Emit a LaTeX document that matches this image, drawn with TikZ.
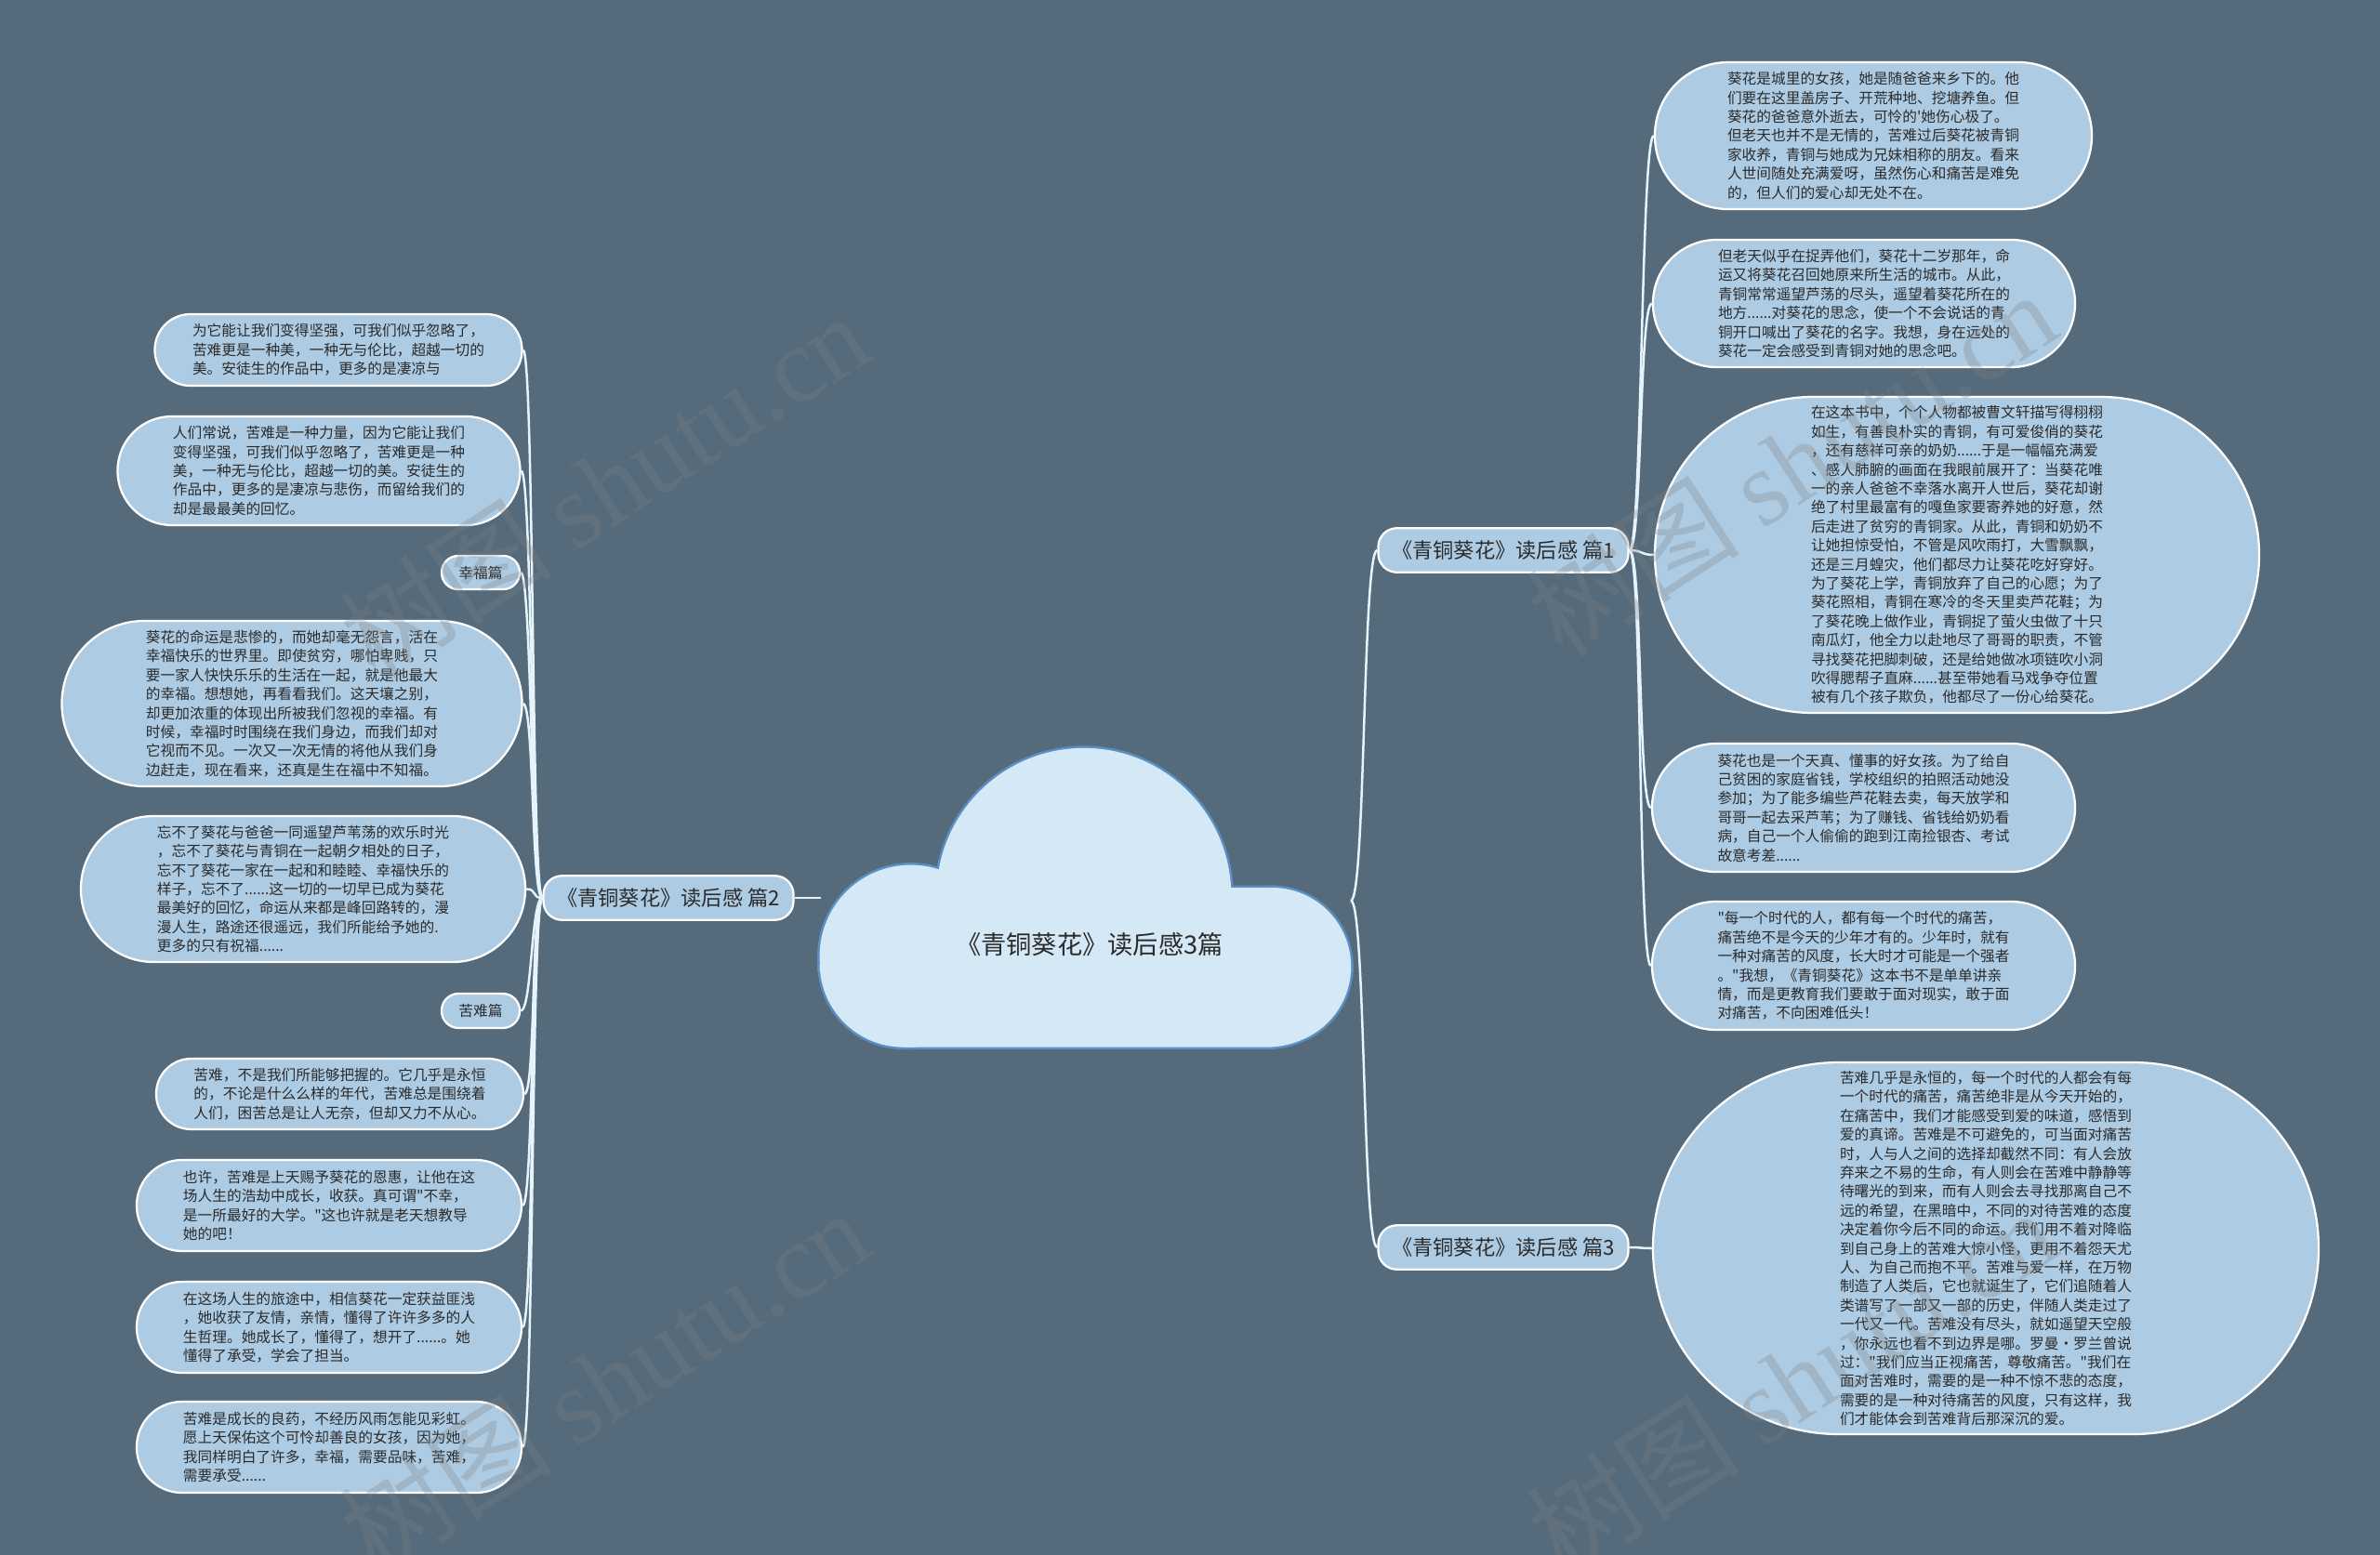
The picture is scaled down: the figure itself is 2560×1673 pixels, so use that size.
\documentclass[tikz,border=0pt]{standalone}
\usepackage{fontspec}
\newfontfamily\cjk{Noto Sans CJK SC}
\newfontfamily\wmserif{Liberation Serif}
\definecolor{bgc}{HTML}{556B7C}
\definecolor{leafc}{HTML}{ADCBE3}
\definecolor{cloudc}{HTML}{D4E8F6}
\definecolor{cloudb}{HTML}{5B8FC4}
\definecolor{txtc}{HTML}{2B2B2B}
\definecolor{connc}{HTML}{E6F3FB}
\tikzset{
  leaf/.style={draw=white, line width=0.9pt, fill=leafc, text=txtc, align=left, inner sep=0pt,
    font=\cjk\fontsize{6.28pt}{8.16pt}\selectfont},
  branch/.style={draw=white, line width=0.9pt, fill=leafc, text=txtc, inner sep=0pt,
    minimum width=107.6pt, minimum height=19pt, rounded corners=8pt,
    font=\cjk\fontsize{8.9pt}{10pt}\selectfont},
  conn/.style={draw=connc, line width=1pt},
  wm/.style={text=gray, opacity=0.28, font=\fontsize{46pt}{46pt}\selectfont, inner sep=0pt},
}
\begin{document}
\begin{tikzpicture}[x=0.4pt,y=-0.4pt]
\useasboundingbox (0,0) rectangle (2560,1673);
\fill[bgc] (0,0) rectangle (2560,1673);

% cloud
\path[draw=cloudb, line width=2pt, fill=cloudb]
  (1165.8,963.3) circle[radius=63.4pt]
  (1368.2,1040) circle[radius=34pt]
  (979.6,1028.6) circle[radius=39.2pt];
\path[draw=cloudb, line width=2pt, fill=cloudb, rounded corners=36pt] (881.7,955) rectangle (1453.1,1126.6);
\path[fill=cloudc]
  (1165.8,963.3) circle[radius=63.4pt]
  (1368.2,1040) circle[radius=34pt]
  (979.6,1028.6) circle[radius=39.2pt];
\path[fill=cloudc, rounded corners=36pt] (881.7,955) rectangle (1453.1,1126.6);
\node[text=txtc, font=\cjk\fontsize{10.9pt}{12pt}\selectfont] (center) at (1172,1016) {《青铜葵花》读后感3篇};
\coordinate (cR) at (1453,969);
\coordinate (cL) at (883,966);

% branches
\node[branch] (b1) at (1617,592) {《青铜葵花》读后感 篇1};
\node[branch] (b2) at (719,966) {《青铜葵花》读后感 篇2};
\node[branch] (b3) at (1617,1342) {《青铜葵花》读后感 篇3};

% right leaves
\node[leaf, minimum width=188pt, minimum height=63.2pt, rounded corners=31.5pt] (r1) at (2015,146) {葵花是城里的女孩，她是随爸爸来乡下的。他\\们要在这里盖房子、开荒种地、挖塘养鱼。但\\葵花的爸爸意外逝去，可怜的'她伤心极了。\\但老天也并不是无情的，苦难过后葵花被青铜\\家收养，青铜与她成为兄妹相称的朋友。看来\\人世间随处充满爱呀，虽然伤心和痛苦是难免\\的，但人们的爱心却无处不在。};
\node[leaf, minimum width=181.6pt, minimum height=54.8pt, rounded corners=27.3pt] (r2) at (2005,326.5) {但老天似乎在捉弄他们，葵花十二岁那年，命\\运又将葵花召回她原来所生活的城市。从此，\\青铜常常遥望芦荡的尽头，遥望着葵花所在的\\地方......对葵花的思念，使一个不会说话的青\\铜开口喊出了葵花的名字。我想，身在远处的\\葵花一定会感受到青铜对她的思念吧。};
\node[leaf, minimum width=260pt, minimum height=136pt, rounded corners=67.9pt] (r3) at (2105,597) {在这本书中，个个人物都被曹文轩描写得栩栩\\如生，有善良朴实的青铜，有可爱俊俏的葵花\\，还有慈祥可亲的奶奶......于是一幅幅充满爱\\、感人肺腑的画面在我眼前展开了：当葵花唯\\一的亲人爸爸不幸落水离开人世后，葵花却谢\\绝了村里最富有的嘎鱼家要寄养她的好意，然\\后走进了贫穷的青铜家。从此，青铜和奶奶不\\让她担惊受怕，不管是风吹雨打，大雪飘飘，\\还是三月蝗灾，他们都尽力让葵花吃好穿好。\\为了葵花上学，青铜放弃了自己的心愿；为了\\葵花照相，青铜在寒冷的冬天里卖芦花鞋；为\\了葵花晚上做作业，青铜捉了萤火虫做了十只\\南瓜灯，他全力以赴地尽了哥哥的职责，不管\\寻找葵花把脚刺破，还是给她做冰项链吹小洞\\吹得腮帮子直麻......甚至带她看马戏争夺位置\\被有几个孩子欺负，他都尽了一份心给葵花。};
\node[leaf, minimum width=182pt, minimum height=55.2pt, rounded corners=27.5pt] (r4) at (2004.5,869) {葵花也是一个天真、懂事的好女孩。为了给自\\己贫困的家庭省钱，学校组织的拍照活动她没\\参加；为了能多编些芦花鞋去卖，每天放学和\\哥哥一起去采芦苇；为了赚钱、省钱给奶奶看\\病，自己一个人偷偷的跑到江南捡银杏、考试\\故意考差......};
\node[leaf, minimum width=182pt, minimum height=55.2pt, rounded corners=27.5pt] (r5) at (2004.5,1039) {"每一个时代的人，都有每一个时代的痛苦，\\痛苦绝不是今天的少年才有的。少年时，就有\\一种对痛苦的风度，长大时才可能是一个强者\\。"我想，《青铜葵花》这本书不是单单讲亲\\情，而是更教育我们要敢于面对现实，敢于面\\对痛苦，不向困难低头！};
\node[leaf, minimum width=286.4pt, minimum height=160pt, rounded corners=79.9pt] (r6) at (2136,1343) {苦难几乎是永恒的，每一个时代的人都会有每\\一个时代的痛苦，痛苦绝非是从今天开始的，\\在痛苦中，我们才能感受到爱的味道，感悟到\\爱的真谛。苦难是不可避免的，可当面对痛苦\\时，人与人之间的选择却截然不同：有人会放\\弃来之不易的生命，有人则会在苦难中静静等\\待曙光的到来，而有人则会去寻找那离自己不\\远的希望，在黑暗中，不同的对待苦难的态度\\决定着你今后不同的命运。我们用不着对降临\\到自己身上的苦难大惊小怪，更用不着怨天尤\\人、为自己而抱不平。苦难与爱一样，在万物\\制造了人类后，它也就诞生了，它们追随着人\\类谱写了一部又一部的历史，伴随人类走过了\\一代又一代。苦难没有尽头，就如遥望天空般\\，你永远也看不到边界是哪。罗曼·罗兰曾说\\过："我们应当正视痛苦，尊敬痛苦。"我们在\\面对苦难时，需要的是一种不惊不悲的态度，\\需要的是一种对待痛苦的风度，只有这样，我\\们才能体会到苦难背后那深沉的爱。};

% left leaves
\node[leaf, minimum width=158pt, minimum height=30.8pt, rounded corners=15.3pt] (l1) at (364,376.5) {为它能让我们变得坚强，可我们似乎忽略了，\\苦难更是一种美，一种无与伦比，超越一切的\\美。安徒生的作品中，更多的是凄凉与};
\node[leaf, minimum width=173.2pt, minimum height=46.8pt, rounded corners=23.3pt] (l2) at (343,506.5) {人们常说，苦难是一种力量，因为它能让我们\\变得坚强，可我们似乎忽略了，苦难更是一种\\美，一种无与伦比，超越一切的美。安徒生的\\作品中，更多的是凄凉与悲伤，而留给我们的\\却是最最美的回忆。};
\node[leaf, minimum width=33.6pt, minimum height=14.4pt, rounded corners=7.1pt] (l3) at (517,616) {幸福篇};
\node[leaf, minimum width=198pt, minimum height=71.2pt, rounded corners=35.5pt] (l4) at (314,757) {葵花的命运是悲惨的，而她却毫无怨言，活在\\幸福快乐的世界里。即使贫穷，哪怕卑贱，只\\要一家人快快乐乐的生活在一起，就是他最大\\的幸福。想想她，再看看我们。这天壤之别，\\却更加浓重的体现出所被我们忽视的幸福。有\\时候，幸福时时围绕在我们身边，而我们却对\\它视而不见。一次又一次无情的将他从我们身\\边赶走，现在看来，还真是生在福中不知福。};
\node[leaf, minimum width=191.2pt, minimum height=62.8pt, rounded corners=31.3pt] (l5) at (326,956.5) {忘不了葵花与爸爸一同遥望芦苇荡的欢乐时光\\，忘不了葵花与青铜在一起朝夕相处的日子，\\忘不了葵花一家在一起和和睦睦、幸福快乐的\\样子，忘不了......这一切的一切早已成为葵花\\最美好的回忆，命运从来都是峰回路转的，漫\\漫人生，路途还很遥远，我们所能给予她的.\\更多的只有祝福......};
\node[leaf, minimum width=33.6pt, minimum height=14.8pt, rounded corners=7.3pt] (l6) at (517,1087.5) {苦难篇};
\node[leaf, minimum width=158pt, minimum height=30.4pt, rounded corners=15.1pt] (l7) at (365.5,1177) {苦难，不是我们所能够把握的。它几乎是永恒\\的，不论是什么么样的年代，苦难总是围绕着\\人们，困苦总是让人无奈，但却又力不从心。};
\node[leaf, minimum width=165.6pt, minimum height=39.2pt, rounded corners=19.5pt] (l8) at (354,1297) {也许，苦难是上天赐予葵花的恩惠，让他在这\\场人生的浩劫中成长，收获。真可谓"不幸，\\是一所最好的大学。"这也许就是老天想教导\\她的吧！};
\node[leaf, minimum width=165.6pt, minimum height=39.2pt, rounded corners=19.5pt] (l9) at (354,1428) {在这场人生的旅途中，相信葵花一定获益匪浅\\，她收获了友情，亲情，懂得了许许多多的人\\生哲理。她成长了，懂得了，想开了......。她\\懂得了承受，学会了担当。};
\node[leaf, minimum width=165.6pt, minimum height=39.2pt, rounded corners=19.5pt] (l10) at (354,1557) {苦难是成长的良药，不经历风雨怎能见彩虹。\\愿上天保佑这个可怜却善良的女孩，因为她，\\我同样明白了许多，幸福，需要品味，苦难，\\需要承受......};

% connectors
\draw[conn] (cR) .. controls +(16,0) and +(-16,0) .. (b1.west);
\draw[conn] (cR) .. controls +(16,0) and +(-16,0) .. (b3.west);
\draw[conn] (cL) -- (b2.east);
\foreach \n in {r1,r2,r3,r4,r5}
  \draw[conn] (b1.east) .. controls +(14,0) and +(-14,0) .. (\n.west);
\draw[conn] (b3.east) .. controls +(14,0) and +(-14,0) .. (r6.west);
\foreach \n in {l1,l2,l3,l4,l5,l6,l7,l8,l9,l10}
  \draw[conn] (b2.west) .. controls +(-12,0) and +(12,0) .. (\n.east);

% watermarks
\node[wm, rotate=33] (wm1) at (650,522) {\cjk 树图 \wmserif shutu.cn};
\node[wm, rotate=33] (wm2) at (1927,498) {\cjk 树图 \wmserif shutu.cn};
\node[wm, rotate=33] (wm3) at (650,1486) {\cjk 树图 \wmserif shutu.cn};
\node[wm, rotate=33] (wm4) at (1927,1486) {\cjk 树图 \wmserif shutu.cn};
\end{tikzpicture}
\end{document}
